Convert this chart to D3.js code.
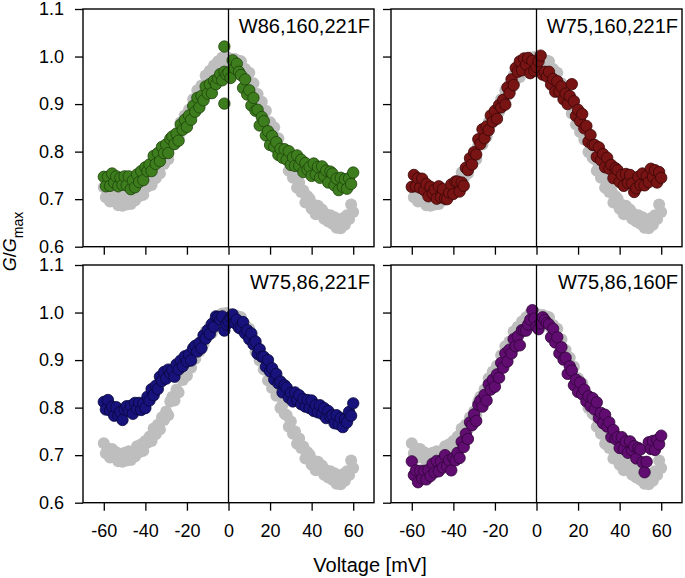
<!DOCTYPE html>
<html><head><meta charset="utf-8">
<script src="https://cdn.jsdelivr.net/npm/d3@7"></script>
<style>body{margin:0;background:#fff}svg{display:block}text{font-family:Arial,"Liberation Sans",sans-serif;fill:#000}</style>
</head><body><svg id="c" width="685" height="578"></svg>
<script>
// sampling grid (mV)
const voltage = d3.range(-60, 61, 1);
const xTicks = [-60, -40, -20, 0, 20, 40, 60];
const yTicks = [0.6, 0.7, 0.8, 0.9, 1.0, 1.1];
const panelLabels = ["W86,160,221F", "W75,160,221F", "W75,86,221F", "W75,86,160F"];

// reference (wild type) trace, shown in grey in every panel
const gray = [
.725,.704,.714,.695,.713,.696,.706,.687,.699,.686,.705,
.689,.708,.690,.706,.697,.719,.706,.723,.709,.730,.726,
.739,.730,.756,.744,.764,.754,.780,.774,.792,.784,.813,
.823,.815,.838,.832,.862,.858,.876,.867,.888,.884,.910,
.903,.929,.918,.939,.934,.960,.951,.970,.957,.981,.978,
.990,.984,.998,.991,.999,.985,.996,.988,.995,.982,.991,
.990,.967,.974,.952,.966,.943,.944,.918,.921,.899,.905,
.880,.886,.857,.862,.841,.851,.825,.828,.799,.806,.787,
.784,.760,.771,.745,.750,.724,.735,.715,.718,.693,.706,
.701,.680,.688,.668,.686,.670,.678,.659,.668,.653,.666,
.648,.662,.640,.652,.639,.660,.646,.666,.658,.689,.673];

const green = [
.747,.727,.747,.728,.754,.735,.748,.727,.745,.730,.748,
.729,.748,.721,.739,.725,.752,.736,.759,.740,.767,.759,
.773,.759,.791,.774,.797,.780,.810,.797,.815,.797,.827,
.832,.816,.838,.823,.857,.846,.867,.852,.876,.867,.896,
.884,.913,.893,.917,.908,.937,.922,.942,.923,.949,.942,
.954,.963,.950,.968,.962,.966,.955,.992,.975,.985,.968,
.961,.934,.952,.920,.929,.897,.913,.886,.888,.855,.873,
.864,.834,.843,.814,.833,.810,.820,.793,.806,.787,.805,
.783,.801,.772,.788,.770,.792,.770,.783,.757,.776,.762,
.768,.749,.775,.752,.768,.745,.769,.749,.760,.735,.758,
.754,.729,.743,.719,.745,.726,.742,.722,.744,.732,.756];
const greenExtraV = [-2, -2];
const greenExtraG = [1.021, 0.901];

const red = [
.726,.751,.727,.744,.724,.743,.719,.732,.706,.726,.712,
.720,.701,.727,.704,.721,.701,.700,.714,.731,.711,.737,
.737,.716,.735,.728,.766,.761,.786,.773,.799,.794,.826,
.816,.847,.828,.853,.845,.876,.863,.886,.869,.898,.893,
.909,.899,.935,.923,.952,.940,.976,.968,.990,.971,.996,
.983,.997,.965,.991,.970,.978,.990,1.002,.962,.968,.958,
.968,.941,.953,.926,.948,.926,.937,.910,.922,.900,.917,
.942,.906,.875,.888,.864,.879,.849,.854,.821,.835,.814,
.814,.789,.809,.782,.795,.767,.787,.764,.772,.744,.765,
.761,.736,.751,.728,.753,.734,.751,.733,.715,.723,.747,
.730,.754,.729,.749,.736,.764,.747,.761,.735,.757,.745];

const blue = [
.812,.796,.816,.794,.802,.783,.801,.784,.791,.774,.796,
.803,.793,.804,.787,.810,.797,.810,.795,.809,.799,.823,
.815,.839,.826,.846,.839,.865,.856,.875,.861,.880,.872,
.879,.865,.891,.880,.899,.887,.908,.897,.912,.899,.925,
.930,.918,.936,.925,.952,.945,.963,.955,.976,.970,.992,
.990,.985,.992,.962,.975,.982,.990,.996,.978,.985,.968,
.966,.980,.956,.963,.944,.956,.933,.939,.913,.923,.907,
.907,.886,.900,.876,.883,.859,.871,.851,.855,.832,.847,
.842,.821,.831,.813,.832,.816,.826,.807,.818,.802,.816,
.799,.815,.793,.805,.790,.805,.787,.799,.778,.793,.781,
.784,.767,.784,.765,.778,.759,.776,.769,.791,.783,.809];

const purple = [
.687,.658,.668,.643,.667,.651,.667,.649,.669,.656,.682,
.664,.688,.666,.687,.674,.700,.677,.689,.668,.694,.689,
.705,.694,.728,.717,.745,.734,.769,.763,.786,.772,.806,
.815,.802,.827,.815,.849,.838,.859,.844,.870,.863,.894,
.884,.914,.897,.922,.914,.944,.929,.950,.931,.963,.962,
.962,.975,.985,1.005,.987,.970,.965,.977,.990,.984,.978,
.975,.948,.966,.937,.948,.914,.927,.901,.905,.871,.887,
.878,.847,.859,.833,.853,.828,.838,.813,.824,.803,.820,
.796,.811,.778,.789,.767,.785,.760,.769,.738,.753,.734,
.738,.715,.738,.713,.729,.705,.729,.710,.719,.693,.715,
.712,.685,.664,.686,.727,.713,.730,.711,.732,.723,.741];

const mutants = [green, red, blue, purple];
const fills = ["#3d7d1d", "#781414", "#18137c", "#600c70"];
const strokes = ["#1d430b", "#3a0606", "#07063a", "#2e0537"];

const svg = d3.select("#c");
const colX = [83, 391], rowY = [9, 265], W = 291, H = 237.7;

mutants.forEach((series, i) => {
  const col = i % 2, row = Math.floor(i / 2);
  const x = d3.scaleLinear().domain([-70, 70]).range([colX[col], colX[col] + W]);
  const y = d3.scaleLinear().domain([0.6, 1.1]).range([rowY[row] + H, rowY[row]]);
  const g = svg.append("g");

  g.append("g").selectAll("circle").data(voltage).join("circle")
    .attr("cx", (d) => x(d)).attr("cy", (d, j) => y(gray[j]))
    .attr("r", 6).attr("fill", "#bebebe");

  let pts = voltage.map((v, j) => [v, series[j]]);
  if (i === 0) greenExtraV.forEach((v, k) => pts.push([v, greenExtraG[k]]));
  g.append("g").selectAll("circle").data(pts).join("circle")
    .attr("cx", d => x(d[0])).attr("cy", d => y(d[1]))
    .attr("r", 5.7).attr("fill", fills[i]).attr("stroke", strokes[i]).attr("stroke-width", 0.8);

  g.append("line").attr("x1", x(0)).attr("x2", x(0)).attr("y1", y(1.1)).attr("y2", y(0.6))
    .attr("stroke", "#000").attr("stroke-width", 1.3);

  const xa = d3.axisBottom(x).tickValues(xTicks).tickSize(8).tickPadding(14)
    .tickFormat(row === 1 ? (d => String(d)) : () => "");
  const ya = d3.axisLeft(y).tickValues(yTicks).tickSize(8).tickPadding(11)
    .tickFormat(col === 0 ? (d => d.toFixed(1)) : () => "");
  const gx = g.append("g").attr("transform", `translate(0,${rowY[row] + H})`).call(xa);
  const gy = g.append("g").attr("transform", `translate(${colX[col]},0)`).call(ya);
  [gx, gy].forEach(a => {
    a.select(".domain").remove();
    a.selectAll("line").attr("stroke", "#000").attr("stroke-width", 1.3);
    a.selectAll("text").attr("font-size", 18).attr("font-family", "Arial, 'Liberation Sans', sans-serif").attr("fill", "#000");
  });

  g.append("rect").attr("x", colX[col]).attr("y", rowY[row]).attr("width", W).attr("height", H)
    .attr("fill", "none").attr("stroke", "#000").attr("stroke-width", 1.4);

  g.append("text").attr("x", colX[col] + W - 4).attr("y", rowY[row] + 24)
    .attr("text-anchor", "end").attr("font-size", 20).text(panelLabels[i]);
});

svg.append("text").attr("x", 370).attr("y", 571.5).attr("text-anchor", "middle")
  .attr("font-size", 20).text("Voltage [mV]");

const yt = svg.append("text").attr("transform", "translate(16,241.5) rotate(-90)")
  .attr("text-anchor", "middle").attr("font-size", 18);
yt.append("tspan").attr("font-style", "italic").text("G");
yt.append("tspan").text("/");
yt.append("tspan").attr("font-style", "italic").text("G");
yt.append("tspan").attr("font-size", 14).attr("dy", 7).text("max");
</script></body></html>
